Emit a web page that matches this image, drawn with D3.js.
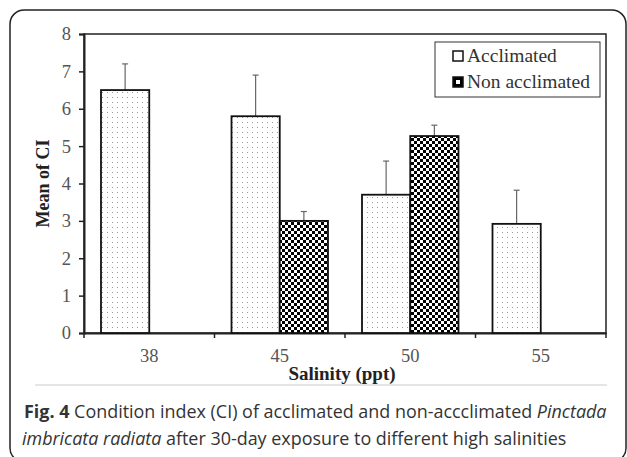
<!DOCTYPE html>
<html><head><meta charset="utf-8">
<script src="https://cdn.jsdelivr.net/npm/d3@7"></script>
<style>body{margin:0;background:#fff}</style>
</head><body>
<svg id="c" width="627" height="457"></svg>
<script>
const categories = ["38","45","50","55"];
const series = ["Acclimated","Non acclimated"];
const acclimated = [6.5, 5.8, 3.7, 2.92];
const acclimatedErr = [7.2, 6.9, 4.6, 3.82];
const nonAcclimated = [null, 3.0, 5.27, null];
const nonAcclimatedErr = [null, 3.25, 5.56, null];
const yTicks = [0,1,2,3,4,5,6,7,8];

const svg = d3.select("#c");
const defs = svg.append("defs");
const pd = defs.append("pattern").attr("id","dots").attr("patternUnits","userSpaceOnUse").attr("width",5).attr("height",5);
pd.append("rect").attr("width",5).attr("height",5).attr("fill","#fff");
pd.append("rect").attr("x",2).attr("y",2).attr("width",1).attr("height",1).attr("fill","#999");
const pc = defs.append("pattern").attr("id","check").attr("patternUnits","userSpaceOnUse").attr("width",6).attr("height",6);
pc.append("rect").attr("width",6).attr("height",6).attr("fill","#000");
pc.append("rect").attr("x",0).attr("y",0).attr("width",3).attr("height",3).attr("fill","#fff");
pc.append("rect").attr("x",3).attr("y",3).attr("width",3).attr("height",3).attr("fill","#fff");

// outer frame
svg.append("rect").attr("x",10).attr("y",10).attr("width",616).attr("height",452).attr("rx",14)
  .attr("fill","none").attr("stroke","#222").attr("stroke-width",1.5);

const L=84,R=606,T=34,B=333;
const x = d3.scaleBand().domain(categories).range([L,R]).paddingInner(0).paddingOuter(0);
const x1 = d3.scaleBand().domain(series).range([17, x.bandwidth()-17]);
const y = d3.scaleLinear().domain([0,8]).range([B,T]);

// plot frame
svg.append("rect").attr("x",L).attr("y",T).attr("width",R-L).attr("height",B-T)
  .attr("fill","none").attr("stroke","#222").attr("stroke-width",1.5);

const serif = "'Liberation Serif','Times New Roman',serif";
// y axis
const ya = svg.append("g").attr("transform",`translate(${L},0)`)
  .call(d3.axisLeft(y).tickValues(yTicks).tickSize(5).tickPadding(8).tickFormat(d3.format("d")));
ya.select(".domain").attr("stroke","#222").attr("stroke-width",2);
ya.selectAll("line").attr("stroke","#222").attr("stroke-width",1.5);
ya.selectAll("text").attr("font-family",serif).attr("font-size",18.5).attr("fill","#555");

// x axis
const xa = svg.append("g").attr("transform",`translate(0,${B})`)
  .call(d3.axisBottom(x).tickSize(0).tickPadding(16));
xa.select(".domain").attr("stroke","#222").attr("stroke-width",2);
xa.selectAll("text").attr("font-family",serif).attr("font-size",18.5).attr("fill","#555");
const bounds = categories.map(c=>x(c)).concat([R]);
svg.append("g").selectAll("line").data(bounds).join("line")
  .attr("x1",d=>d).attr("x2",d=>d).attr("y1",B).attr("y2",B+5).attr("stroke","#222").attr("stroke-width",1.5);

function drawSeries(vals, errs, key, fill){
  const g = svg.append("g");
  categories.forEach((c,i)=>{
    if(vals[i]==null) return;
    const bx = x(c)+x1(key), bw = x1.bandwidth(), cx = bx+bw/2;
    g.append("line").attr("x1",cx).attr("x2",cx).attr("y1",y(vals[i])).attr("y2",y(errs[i])).attr("stroke","#666").attr("stroke-width",1.2);
    g.append("line").attr("x1",cx-3).attr("x2",cx+3).attr("y1",y(errs[i])).attr("y2",y(errs[i])).attr("stroke","#666").attr("stroke-width",1.2);
    g.append("rect").attr("x",bx).attr("y",y(vals[i])).attr("width",bw).attr("height",B-y(vals[i]))
      .attr("fill",fill).attr("stroke","#111").attr("stroke-width",1.8);
  });
}
drawSeries(acclimated, acclimatedErr, series[0], "url(#dots)");
drawSeries(nonAcclimated, nonAcclimatedErr, series[1], "url(#check)");

// legend
const lg = svg.append("g");
lg.append("rect").attr("x",435).attr("y",42).attr("width",165).attr("height",55).attr("fill","#fff").attr("stroke","#333").attr("stroke-width",1);
series.forEach((s,i)=>{
  const yy = 56 + i*26;
  lg.append("rect").attr("x",453).attr("y",yy-5).attr("width",10).attr("height",10).attr("fill",i==0?"#fff":"#000").attr("stroke","#111").attr("stroke-width",1.5);
  if(i==1) lg.append("rect").attr("x",456).attr("y",yy-2).attr("width",4).attr("height",4).attr("fill","#fff");
  lg.append("text").attr("x",467).attr("y",yy+6).text(s).attr("font-family",serif).attr("font-size",19.5).attr("fill","#333");
});

// axis titles
svg.append("text").attr("transform",`translate(49,${(T+B)/2}) rotate(-90)`).attr("text-anchor","middle")
  .attr("font-family",serif).attr("font-weight","bold").attr("font-size",18).attr("fill","#222").text("Mean of CI");
svg.append("text").attr("x",342).attr("y",380).attr("text-anchor","middle")
  .attr("font-family",serif).attr("font-weight","bold").attr("font-size",19).attr("fill","#222").text("Salinity (ppt)");

// separator
svg.append("line").attr("x1",35).attr("x2",607).attr("y1",385).attr("y2",385).attr("stroke","#ddd").attr("stroke-width",1.5);

// caption
const sans = "'Open Sans','Noto Sans',sans-serif";
const cap1 = svg.append("text").attr("x",24).attr("y",418).attr("font-family",sans).attr("font-size",17).attr("fill","#333");
cap1.append("tspan").attr("font-weight","bold").text("Fig. 4");
cap1.append("tspan").text(" Condition index (CI) of acclimated and non-accclimated ");
cap1.append("tspan").attr("font-style","italic").text("Pinctada");
const cap2 = svg.append("text").attr("x",22).attr("y",445).attr("font-family",sans).attr("font-size",17).attr("fill","#333");
cap2.append("tspan").attr("font-style","italic").text("imbricata radiata");
cap2.append("tspan").text(" after 30-day exposure to different high salinities");
// fit caption line 1 to span to the plot's right edge
const w1 = cap1.node().getComputedTextLength();
const fs = Math.min(19, Math.max(15, 17 * (607 - 24) / w1));
cap1.attr("font-size", fs);
cap2.attr("font-size", fs);
</script>
</body></html>
